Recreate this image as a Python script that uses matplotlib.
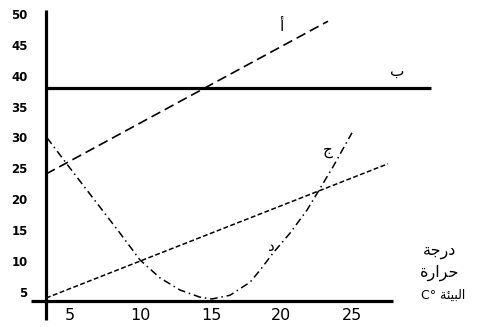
import matplotlib
matplotlib.use("Agg")
import matplotlib.pyplot as plt

# ---- data ----
x_ticks = [5, 10, 15, 20, 25]
y_ticks = [5, 10, 15, 20, 25, 30, 35, 40, 45, 50]

# line أ (long dashes)
a_x = [3.3, 23.3]
a_y = [24.35, 49.0]
# line ب (solid horizontal)
b_x = [3.3, 30.6]
b_y = [38.2, 38.2]
# short dashed straight line
s_x = [3.3, 27.55]
s_y = [4.35, 26.0]
# dash-dot curve (ج / د)
c_x = [3.37, 5.0, 7.13, 8.55, 9.96, 11.38, 12.8, 14.2, 15.07, 16.35, 17.77,
       18.5, 19.4, 20.6, 21.8, 22.6, 23.65, 25.0]
c_y = [30.2, 25.3, 19.0, 14.8, 10.5, 7.6, 5.65, 4.5, 4.2, 4.8, 6.9,
       8.9, 11.6, 14.8, 18.5, 21.5, 25.5, 31.0]

# axis lines
yaxis_x = [3.3, 3.3]
yaxis_y = [0.8, 50.8]
xaxis_x = [2.23, 27.9]
xaxis_y = [3.85, 3.85]

fig = plt.figure(figsize=(5.0, 3.32), dpi=100)
ax = fig.add_axes([0, 0, 1, 1])
ax.set_xlim(0.035, 35.5)
ax.set_ylim(-1.13, 52.42)
ax.axis('off')

thick = 2.3
ax.plot(yaxis_x, yaxis_y, color='black', lw=thick, solid_capstyle='butt')
ax.plot(xaxis_x, xaxis_y, color='black', lw=thick, solid_capstyle='butt')
ax.plot(b_x, b_y, color='black', lw=thick, solid_capstyle='butt')

ax.plot(a_x, a_y, color='black', lw=1.2, linestyle=(0, (6, 3)))
ax.plot(s_x, s_y, color='black', lw=1.1, linestyle=(0, (3.2, 1.6)))
ax.plot(c_x, c_y, color='black', lw=1.1, linestyle=(0, (5, 2.5, 1, 2.5)))

for v in y_ticks:
    ax.text(2.0, v, str(v), ha='right', va='center', fontsize=8.5,
            fontweight='bold', family='DejaVu Sans')
for v in x_ticks:
    ax.text(v, 1.5, str(v), ha='center', va='center', fontsize=11.5,
            family='DejaVu Sans')

# Arabic labels
ax.text(20.0, 48.1, "أ", ha='center', va='center', fontsize=11, family='DejaVu Sans')
ax.text(28.2, 41.0, "ب", ha='center', va='center', fontsize=11, family='DejaVu Sans')
ax.text(23.3, 28.2, "ج", ha='center', va='center', fontsize=11, family='DejaVu Sans')
ax.text(19.2, 12.7, "د", ha='center', va='center', fontsize=11, family='DejaVu Sans')

# "درجة" / "حرارة" / "البيئة C°" (shaped presentation forms, visual order)
ax.text(31.2, 11.8, "\uFE94\uFE9F\uFEAD\uFEA9", ha='center', va='center',
        fontsize=11.5, family='DejaVu Sans')
ax.text(31.2, 8.4, "\uFE93\uFEAD\uFE8D\uFEAE\uFEA3", ha='center', va='center',
        fontsize=11.5, family='DejaVu Sans')
ax.text(31.45, 4.8, "C\u00b0 \uFE94\uFE8C\uFEF4\uFE92\uFEDF\uFE8D", ha='center',
        va='center', fontsize=9, family='DejaVu Sans')

fig.savefig("out.png", dpi=100)
